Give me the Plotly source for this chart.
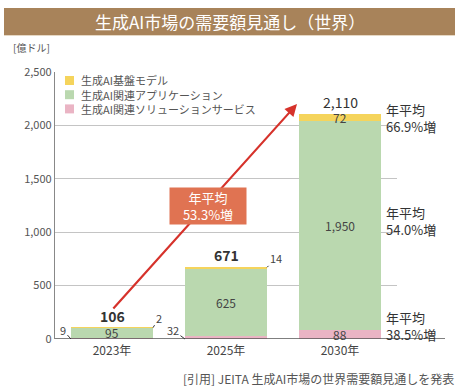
import plotly.graph_objects as go

# ---- data ----
years = ["2023年", "2025年", "2030年"]
series_names = ["生成AI基盤モデル", "生成AI関連アプリケーション", "生成AI関連ソリューションサービス"]
foundation = [2, 14, 72]          # yellow (top)
application = [95, 625, 1950]     # green (middle)
solution = [9, 32, 88]            # pink (bottom)
totals = [106, 671, 2110]
y_ticks = [0, 500, 1000, 1500, 2000, 2500]
cagr_total = "年平均<br>53.3%増"
cagr_series = ["年平均<br>66.9%増", "年平均<br>54.0%増", "年平均<br>38.5%増"]

FONT = "Noto Sans CJK JP"
C_Y, C_G, C_P = "#F5D45C", "#BAD8AF", "#EAB4C4"
TXT = "#444444"


def px(x):  # page pixel -> paper x
    return (x - 55) / 342


def py(y):  # page pixel -> paper y
    return (339 - y) / 267


fig = go.Figure()
for name, vals, col in [(series_names[2], solution, C_P),
                        (series_names[1], application, C_G),
                        (series_names[0], foundation, C_Y)]:
    fig.add_trace(go.Bar(x=years, y=vals, name=name, marker=dict(color=col, line=dict(width=0)),
                         width=0.72, hoverinfo="skip", showlegend=False))

ann = []
# totals
for i, t in enumerate(totals):
    txt = f"{t:,}" if i == 2 else f"<b>{t:,}</b>"
    ann.append(dict(x=years[i], y=t, text=txt, showarrow=False, yanchor="bottom", yshift=0,
                    font=dict(size=14, color="#333333", family=FONT)))
# inside labels
for i in range(3):
    mid_g = solution[i] + application[i] / 2
    ann.append(dict(x=years[i], y=mid_g, text=f"{application[i]:,}", showarrow=False,
                    font=dict(size=12, color=TXT, family=FONT)))
ann.append(dict(x=years[2], y=solution[2] / 2, text=f"{solution[2]:,}", showarrow=False,
                font=dict(size=12, color=TXT, family=FONT)))
ann.append(dict(x=years[2], y=solution[2] + application[2] + foundation[2] / 2,
                text=f"{foundation[2]:,}", showarrow=False, font=dict(size=12, color=TXT, family=FONT)))
# leader labels for small segments
lead = [(-0.36, 0, f"{solution[0]}", -8, -9),
        (0.36, totals[0], f"{foundation[0]}", 6, -10),
        (0.64, 0, f"{solution[1]}", -12, -9),
        (1.36, totals[1], f"{foundation[1]}", 9, -9)]
for x, y, t, ax, ay in lead:
    ann.append(dict(x=x, y=y, text=t, showarrow=True, arrowhead=0, arrowwidth=1, arrowcolor="#333333",
                    ax=ax, ay=ay, standoff=0, startstandoff=0,
                    font=dict(size=11, color=TXT, family=FONT)))
# red trend arrow
ann.append(dict(x=1.623, y=2200, ax=0, ay=272, xref="x", yref="y", axref="x", ayref="y",
                text="", showarrow=True, arrowhead=2, arrowsize=1.1, arrowwidth=2.2, arrowcolor="#D6322B"))
# orange callout
ann.append(dict(xref="paper", yref="paper", x=px(208), y=py(205.5), text=cagr_total,
                xanchor="center", yanchor="middle",
                showarrow=False, bgcolor="#E07352", width=70, height=30, borderpad=3,
                font=dict(size=13, color="white", family=FONT)))
# right CAGR notes
for txt, yv in zip(cagr_series, [2069, 1105, 126]):
    ann.append(dict(xref="paper", x=px(384), y=yv, yref="y", text=txt, showarrow=False,
                    xanchor="left", yanchor="middle", align="left",
                    font=dict(size=13, color="#333333", family=FONT)))
# title
ann.append(dict(xref="paper", yref="paper", x=px(230), y=py(21.5), xanchor="center", yanchor="middle",
                text="生成AI市場の需要額見通し（世界）", showarrow=False,
                font=dict(size=17, color="white", family=FONT)))
# unit
ann.append(dict(xref="paper", yref="paper", x=px(11), y=py(47), xanchor="left", yanchor="middle",
                text="[億ドル]", showarrow=False, font=dict(size=10, color="#555555", family=FONT)))
# caption
ann.append(dict(xref="paper", yref="paper", x=px(456), y=py(378), xanchor="right", yanchor="middle",
                text="[引用] JEITA 生成AI市場の世界需要額見通しを発表", showarrow=False,
                font=dict(size=12, color="#555555", family=FONT)))
# manual legend
leg_cols = [C_Y, C_G, C_P]
shapes = []
for k, (nm, col) in enumerate(zip(series_names, leg_cols)):
    yc = 80.5 + k * 14.2
    shapes.append(dict(type="rect", xref="paper", yref="paper",
                       x0=px(65), x1=px(74), y0=py(yc + 4.5), y1=py(yc - 4.5),
                       fillcolor=col, line=dict(width=0)))
    ann.append(dict(xref="paper", yref="paper", x=px(79), y=py(yc), xanchor="left", yanchor="middle",
                    text=nm, showarrow=False, font=dict(size=11, color="#555555", family=FONT)))

# banner
shapes.append(dict(type="rect", xref="paper", yref="paper", x0=px(4), x1=px(455),
                   y0=py(35), y1=py(8), fillcolor="#A8835A", line=dict(width=0), layer="below"))
shapes.append(dict(type="line", xref="paper", yref="paper", x0=px(4), x1=px(455),
                   y0=py(35.5), y1=py(35.5), line=dict(color="#E6D8C4", width=1)))
# baseline
shapes.append(dict(type="line", xref="paper", yref="y", x0=0, x1=px(445), y0=0, y1=0,
                   line=dict(color="#555555", width=1.5), layer="above"))

fig.update_layout(
    width=467, height=392, barmode="stack",
    margin=dict(l=55, r=70, t=72, b=53),
    paper_bgcolor="white", plot_bgcolor="white",
    font=dict(family=FONT, color="#555555"),
    annotations=ann, shapes=shapes, showlegend=False,
    xaxis=dict(range=[-0.5, 2.5], showgrid=False, showline=False, ticks="",
               tickfont=dict(size=12, color=TXT), fixedrange=True, ticklabelstandoff=3),
    yaxis=dict(range=[0, 2500], tickvals=y_ticks, ticktext=[f"{v:,}" for v in y_ticks],
               showgrid=True, gridcolor="#C4C4C4", gridwidth=1.2, showline=True, linecolor="#888888",
               linewidth=1.2, ticks="", zeroline=False, tickfont=dict(size=11, color="#555555"),
               fixedrange=True),
)
fig.write_html("out.html", config={"displayModeBar": False},
               post_script="document.body.style.margin='0';document.body.style.overflow='hidden';")
